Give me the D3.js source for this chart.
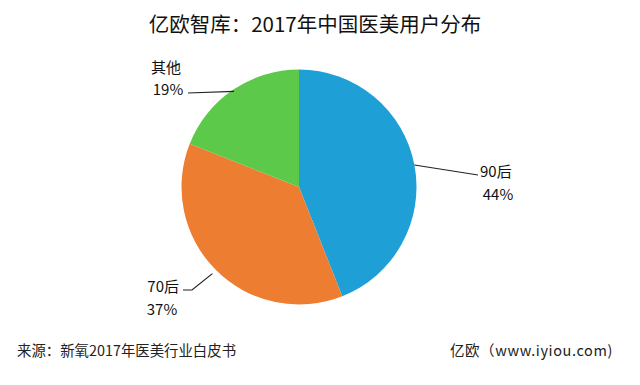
<!DOCTYPE html>
<html><head><meta charset="utf-8">
<script src="https://cdn.jsdelivr.net/npm/d3@7"></script>
<style>
html,body{margin:0;padding:0;background:#fff;}
svg{display:block;font-family:"Microsoft YaHei","Noto Sans CJK SC",sans-serif;}
</style></head>
<body>
<svg id="chart" width="640" height="385"></svg>
<script>
const categories = ["90后", "70后", "其他"];
const values = [44, 37, 19];
const colors = ["#1e9fd6", "#ed7d31", "#5dc94b"];
const title = "亿欧智库：2017年中国医美用户分布";
const source = "来源：新氧2017年医美行业白皮书";
const brand = "亿欧（www.iyiou.com)";

const svg = d3.select("#chart");
const cx = 299, cy = 187, r = 117.5;

svg.append("text").attr("x", 315).attr("y", 32).attr("text-anchor", "middle")
  .attr("font-size", 20.5).attr("fill", "#111").text(title);

const pie = d3.pie().sort(null).value(d => d)(values);
const arc = d3.arc().innerRadius(0).outerRadius(r);
const g = svg.append("g").attr("transform", `translate(${cx},${cy})`);
g.selectAll("path").data(pie).join("path")
  .attr("d", arc).attr("fill", (d, i) => colors[i]);

// label layout (leader lines from slice edge)
const layout = [
  {pts: [[1, 0], [478, 175]], name: [480, 177, "start"], pct: [498, 200]},
  {pts: [[1, -5], [192, 290], [183, 290]], name: [179, 292, "end"], pct: [162, 315]},
  {pts: [[1, 2], [188, 93]], name: [166, 73, "middle"], pct: [168, 95]}
];
pie.forEach((d, i) => {
  const L = layout[i];
  const mid = (d.startAngle + d.endAngle) / 2;
  const rr = r - L.pts[0][1];
  const p0 = [cx + rr * Math.sin(mid), cy - rr * Math.cos(mid)];
  const pts = [p0].concat(L.pts.slice(1));
  svg.append("path").attr("d", d3.line()(pts)).attr("fill", "none")
    .attr("stroke", "#222").attr("stroke-width", 1.2);
  svg.append("text").attr("x", L.name[0]).attr("y", L.name[1])
    .attr("text-anchor", L.name[2]).attr("font-size", 15).attr("fill", "#111")
    .text(categories[i]);
  svg.append("text").attr("x", L.pct[0]).attr("y", L.pct[1])
    .attr("text-anchor", "middle").attr("font-size", 15).attr("fill", "#111")
    .text(values[i] + "%");
});

svg.append("text").attr("x", 17).attr("y", 356).attr("font-size", 14.4)
  .attr("fill", "#222").text(source);
svg.append("text").attr("x", 613).attr("y", 356).attr("text-anchor", "end")
  .attr("font-size", 14.5).attr("letter-spacing", 0.6).attr("fill", "#222").text(brand);
</script>
</body></html>
